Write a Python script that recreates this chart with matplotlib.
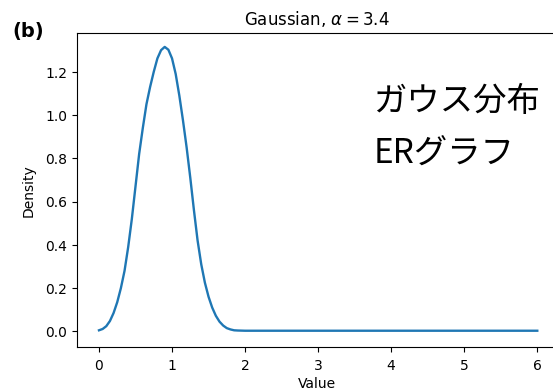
import matplotlib
matplotlib.use("Agg")
import matplotlib.pyplot as plt

# Density curve sampled along the value axis
values = [0.00, 0.05, 0.10, 0.15, 0.20, 0.25, 0.30, 0.35, 0.40, 0.45,
          0.50, 0.55, 0.60, 0.65, 0.70, 0.75, 0.80, 0.85, 0.90, 0.95,
          1.00, 1.05, 1.10, 1.15, 1.20, 1.25, 1.30, 1.35, 1.40, 1.45,
          1.50, 1.55, 1.60, 1.65, 1.70, 1.75, 1.80, 1.85, 1.90, 2.00,
          2.50, 3.00, 3.50, 4.00, 4.50, 5.00, 5.50, 6.00]
density = [0.005, 0.011, 0.024, 0.048, 0.085, 0.135, 0.200, 0.280, 0.390, 0.520,
           0.670, 0.820, 0.940, 1.050, 1.130, 1.200, 1.262, 1.300, 1.315, 1.302,
           1.262, 1.190, 1.090, 0.975, 0.850, 0.710, 0.560, 0.420, 0.310, 0.225,
           0.160, 0.110, 0.072, 0.045, 0.027, 0.015, 0.009, 0.005, 0.004, 0.003,
           0.003, 0.003, 0.003, 0.003, 0.003, 0.003, 0.003, 0.003]

x_ticks = [0, 1, 2, 3, 4, 5, 6]
y_ticks = [0.0, 0.2, 0.4, 0.6, 0.8, 1.0, 1.2]

title = r"Gaussian, $\alpha = 3.4$"
panel_label = "(b)"
note_lines = ["ガウス分布", "ERグラフ"]

W, H = 553, 392
fig = plt.figure(figsize=((W + 0.4) / 100, (H + 0.4) / 100), dpi=100)
# plot area runs off the right edge of the canvas
ax = fig.add_axes([77 / W, 45 / H, (W - 77) / W, 314 / H])

ax.plot(values, density, color="#1f77b4", lw=1.7, solid_joinstyle="round")
ax.set_xlim(-0.3, -0.3 + (W - 77) / 73)
ax.set_ylim(-0.072, 1.381)
ax.set_xticks(x_ticks)
ax.set_yticks(y_ticks)
ax.spines["right"].set_visible(False)
ax.tick_params(axis="x", pad=5)
ax.set_xlabel("Value")
ax.xaxis.set_label_coords(240 / (W - 77), -0.093)
ax.set_ylabel("Density", labelpad=7)
ax.set_title(title, fontsize=12, x=240 / (W - 77))

fig.text(12 / W, 1 - 31 / H, panel_label, fontsize=14, fontweight="bold",
         ha="left", va="center")

for i, line in enumerate(note_lines):
    fig.text(373 / W, 1 - (101 + 52 * i) / H, line, fontsize=24,
             family=["Noto Sans CJK JP", "DejaVu Sans"], ha="left", va="center")

fig.savefig("out.png", dpi=100)
